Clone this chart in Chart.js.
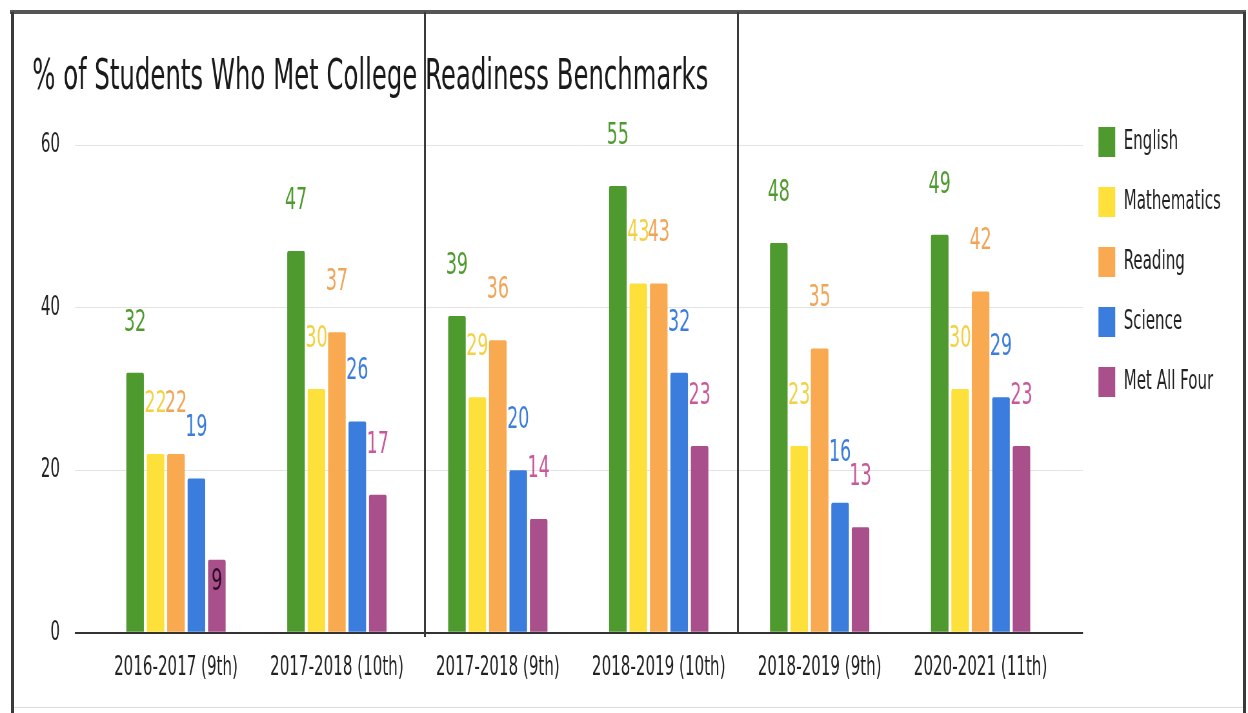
<!DOCTYPE html>
<html>
<head>
<meta charset="utf-8">
<script src="https://cdn.jsdelivr.net/npm/chart.js@4.4.1/dist/chart.umd.min.js"></script>
<style>
    html, body { margin: 0; padding: 0; background: #fff; }
    #wrap { position: relative; width: 1248px; height: 713px; overflow: hidden; }
    #chart { position: absolute; left: 0; top: 0; }
    .rule { position: absolute; background: #3a3a3a; }
</style>
</head>
<body>
<div id="wrap">
    <!-- drawn 1.55x wider and squeezed by CSS so the text looks condensed like the scan -->
    <canvas id="chart" width="1934" height="713" style="width:1248px; height:713px;"></canvas>
    <!-- scan frame lines -->
    <div class="rule" style="left:10px; top:10px; width:1236px; height:4px; background:#555;"></div>
    <div class="rule" style="left:11px; top:12px; width:3px; height:701px;"></div>
    <div class="rule" style="left:1243px; top:12px; width:3px; height:701px;"></div>
    <div class="rule" style="left:424px; top:12px; width:2px; height:625px;"></div>
    <div class="rule" style="left:737px; top:12px; width:2px; height:621px;"></div>
    <div class="rule" style="left:14px; top:707px; width:1229px; height:1px; background:#ddd;"></div>
</div>
<script>
const categories = ['2016-2017 (9th)', '2017-2018 (10th)', '2017-2018 (9th)', '2018-2019 (10th)', '2018-2019 (9th)', '2020-2021 (11th)'];
const english = [32, 47, 39, 55, 48, 49];
const mathematics = [22, 30, 29, 43, 23, 30];
const reading = [22, 37, 36, 43, 35, 42];
const science = [19, 26, 20, 32, 16, 29];
const metAllFour = [9, 17, 14, 23, 13, 23];
const yTicks = [0, 20, 40, 60];

const fontFamily = "'DejaVu Sans Condensed', 'DejaVu Sans', sans-serif";

const seriesList = [
    { label: 'English', data: english, color: '#4f9a2e', labelColor: '#4f9a2e' },
    { label: 'Mathematics', data: mathematics, color: '#fde03a', labelColor: '#f2d143' },
    { label: 'Reading', data: reading, color: '#f9aa50', labelColor: '#f2a456' },
    { label: 'Science', data: science, color: '#3b7ddd', labelColor: '#3b7ddd' },
    { label: 'Met All Four', data: metAllFour, color: '#a9508c', labelColor: '#c8589a' }
];

// value labels above each bar (small ones sit inside the bar)
const valueLabels = {
    id: 'valueLabels',
    afterDatasetsDraw(chart) {
        const ctx = chart.ctx;
        ctx.save();
        ctx.font = `30px ${fontFamily}`;
        ctx.textAlign = 'center';
        ctx.textBaseline = 'middle';
        chart.data.datasets.forEach((ds, i) => {
            const meta = chart.getDatasetMeta(i);
            meta.data.forEach((bar, j) => {
                const v = ds.data[j];
                if (v < 10) {
                    ctx.fillStyle = '#2a0d24';
                    ctx.fillText(v, bar.x, bar.y + 23);
                } else {
                    ctx.fillStyle = seriesList[i].labelColor;
                    ctx.fillText(v, bar.x, bar.y - 50);
                }
            });
        });
        ctx.restore();
    }
};

// gridlines run a little past the plot on the right, legend sits lower
const frameTweaks = {
    id: 'frameTweaks',
    afterLayout(chart) {
        const lg = chart.legend;
        lg.left += 28;
        lg.right += 28;
        lg.top += 44;
        lg.bottom += 44;
    },
    beforeDatasetsDraw(chart) {
        const ctx = chart.ctx;
        const y = chart.scales.y;
        const right = chart.chartArea.right;
        ctx.save();
        yTicks.forEach(v => {
            const w = v === 0 ? 2 : 1;
            const py = Math.round(y.getPixelForValue(v) - w / 2) + w / 2;
            ctx.strokeStyle = v === 0 ? '#333' : '#e4e4e4';
            ctx.lineWidth = w;
            ctx.beginPath();
            ctx.moveTo(v === 0 ? right - 60 : right, py);
            ctx.lineTo(right + 34, py);
            ctx.stroke();
        });
        ctx.restore();
    }
};

const ctx = document.getElementById('chart').getContext('2d');
new Chart(ctx, {
    type: 'bar',
    data: {
        labels: categories,
        datasets: seriesList.map(s => ({
            label: s.label,
            data: s.data,
            backgroundColor: s.color,
            borderRadius: 2,
            barPercentage: 0.86,
            categoryPercentage: 0.635
        }))
    },
    options: {
        responsive: false,
        animation: false,
        devicePixelRatio: 1,
        layout: { padding: { left: 50, right: 60, top: 53, bottom: 17 } },
        plugins: {
            title: {
                display: true,
                text: '% of Students Who Met College Readiness Benchmarks',
                align: 'start',
                color: '#1a1a1a',
                font: { family: fontFamily, size: 42, weight: 'normal' },
                padding: { top: 0, bottom: 42 }
            },
            legend: {
                position: 'right',
                align: 'start',
                labels: {
                    boxWidth: 26,
                    boxHeight: 30,
                    padding: 30,
                    color: '#222',
                    font: { family: fontFamily, size: 26 }
                }
            },
            tooltip: { enabled: false }
        },
        scales: {
            x: {
                grid: { display: false },
                border: { display: false },
                ticks: {
                    color: '#222',
                    padding: 12,
                    autoSkip: false,
                    maxRotation: 0,
                    font: { family: fontFamily, size: 26 }
                }
            },
            y: {
                min: 0,
                max: 60,
                afterBuildTicks: axis => { axis.ticks = yTicks.map(v => ({ value: v })); },
                afterFit: axis => { axis.width = 98; },
                border: { display: false },
                grid: {
                    color: c => c.tick && c.tick.value === 0 ? '#333' : '#e4e4e4',
                    lineWidth: c => c.tick && c.tick.value === 0 ? 2 : 1,
                    tickLength: 32
                },
                ticks: {
                    color: '#222',
                    padding: 23,
                    font: { family: fontFamily, size: 26 }
                }
            }
        }
    },
    plugins: [valueLabels, frameTweaks]
});
</script>
</body>
</html>
